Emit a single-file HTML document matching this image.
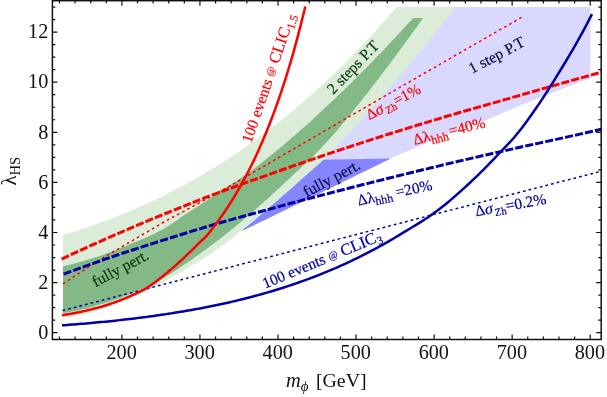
<!DOCTYPE html>
<html><head><meta charset="utf-8"><title>plot</title>
<style>
html,body{margin:0;padding:0;background:#fff;}
body{width:607px;height:397px;overflow:hidden;}
svg{display:block;will-change:transform;}
text{font-family:"Liberation Serif",serif;}
</style></head><body>
<svg width="607" height="397" viewBox="0 0 607 397">
<rect x="0" y="0" width="607" height="397" fill="#fff"/>
<polygon points="300.00,176.00 448.00,7.00 590.40,7.00 590.40,78.30 550.80,93.20 518.00,106.20 485.20,120.50 457.00,130.20 389.70,158.80 300.00,200.00" fill="#d9d9ff"/>
<polygon points="242.20,230.90 243.53,228.34 246.16,226.23 248.79,224.09 251.42,221.93 254.05,219.74 256.68,217.53 259.32,215.30 261.95,213.06 264.58,210.80 267.21,208.53 269.84,206.25 272.47,203.97 275.10,201.69 277.73,199.40 280.36,197.11 282.99,194.82 285.62,192.52 288.26,190.22 290.89,187.91 293.52,185.58 296.15,183.25 298.78,180.90 301.41,178.53 304.04,176.15 306.67,173.81 309.30,171.52 311.93,169.26 314.56,166.99 317.19,164.69 319.83,162.32 322.46,159.84 389.00,158.50 389.90,159.10" fill="#8585ff"/>
<polygon points="63.00,234.93 65.81,234.10 68.61,233.25 71.42,232.39 74.22,231.52 77.03,230.63 79.84,229.73 82.64,228.81 85.45,227.88 88.25,226.94 91.06,225.98 93.86,225.00 96.67,224.01 99.48,223.01 102.28,221.99 105.09,220.95 107.89,219.90 110.70,218.84 113.51,217.76 116.31,216.66 119.12,215.55 121.92,214.42 124.73,213.28 127.54,212.12 130.34,210.94 133.15,209.75 135.95,208.54 138.76,207.31 141.56,206.07 144.37,204.81 147.18,203.53 149.98,202.24 152.79,200.93 155.59,199.60 158.40,198.25 161.21,196.89 164.01,195.50 166.82,194.10 169.62,192.69 172.43,191.25 175.24,189.80 178.04,188.32 180.85,186.83 183.65,185.32 186.46,183.79 189.26,182.25 192.07,180.68 194.88,179.09 197.68,177.49 200.49,175.86 203.29,174.22 206.10,172.56 208.91,170.87 211.71,169.17 214.52,167.45 217.32,165.70 220.13,163.94 222.94,162.16 225.74,160.35 228.55,158.53 231.35,156.68 234.16,154.82 236.96,152.93 239.77,151.02 242.58,149.09 245.38,147.14 248.19,145.17 250.99,143.17 253.80,141.16 256.61,139.12 259.41,137.06 262.22,134.98 265.02,132.87 267.83,130.74 270.64,128.60 273.44,126.42 276.25,124.23 279.05,122.01 281.86,119.77 284.66,117.51 287.47,115.22 290.28,112.91 293.08,110.58 295.89,108.22 298.69,105.84 301.50,103.44 304.31,101.01 307.11,98.56 309.92,96.08 312.72,93.58 315.53,91.05 318.34,88.50 321.14,85.93 323.95,83.33 326.75,80.71 329.56,78.06 332.36,75.38 335.17,72.68 337.98,69.96 340.78,67.21 343.59,64.43 346.39,61.63 349.20,58.80 352.01,55.95 354.81,53.07 357.62,50.16 360.42,47.23 363.23,44.27 366.04,41.28 368.84,38.27 371.65,35.23 374.45,32.16 377.26,29.07 380.06,25.94 382.87,22.80 385.68,19.62 388.48,16.41 391.29,13.18 394.09,9.92 396.90,6.64 396.90,7.00 455.00,7.00 455.00,7.47 452.37,10.82 449.74,14.17 447.11,17.51 444.48,20.84 441.85,24.16 439.21,27.48 436.58,30.79 433.95,34.08 431.32,37.37 428.69,40.65 426.06,43.91 423.43,47.17 420.80,50.41 418.17,53.64 415.54,56.86 412.91,60.06 410.28,63.25 407.64,66.43 405.01,69.59 402.38,72.74 399.75,75.88 397.12,78.99 394.49,82.10 391.86,85.19 389.23,88.26 386.60,91.32 383.97,94.36 381.34,97.38 378.70,100.39 376.07,103.38 373.44,106.35 370.81,109.31 368.18,112.24 365.55,115.16 362.92,118.07 360.29,120.95 357.66,123.82 355.03,126.66 352.40,129.49 349.77,132.30 347.13,135.10 344.50,137.87 341.87,140.62 339.24,143.36 336.61,146.07 333.98,148.78 331.35,151.60 328.72,154.45 326.09,157.23 323.46,159.84 320.83,162.32 318.19,164.69 315.56,166.99 312.93,169.26 310.30,171.52 307.67,173.81 305.04,176.15 302.41,178.53 299.78,180.90 297.15,183.25 294.52,185.58 291.89,187.91 289.26,190.22 286.62,192.52 283.99,194.82 281.36,197.11 278.73,199.40 276.10,201.69 273.47,203.97 270.84,206.25 268.21,208.53 265.58,210.80 262.95,213.06 260.32,215.30 257.68,217.53 255.05,219.74 252.42,221.93 249.79,224.09 247.16,226.23 244.53,228.34 241.90,230.44 239.27,232.52 236.64,234.59 234.01,236.65 231.38,238.68 228.74,240.70 226.11,242.69 223.48,244.65 220.85,246.58 218.22,248.49 215.59,250.36 212.96,252.19 210.33,253.98 207.70,255.74 205.07,257.47 202.44,259.16 199.81,260.83 197.17,262.47 194.54,264.09 191.91,265.69 189.28,267.26 186.65,268.82 184.02,270.35 181.39,271.88 178.76,273.38 176.13,274.88 173.50,276.36 170.87,277.83 168.23,279.30 165.60,280.74 162.97,282.16 160.34,283.56 157.71,284.94 155.08,286.30 152.45,287.64 149.82,288.96 147.19,290.25 144.56,291.53 141.93,292.78 139.30,294.01 136.66,295.21 134.03,296.40 131.40,297.56 128.77,298.69 126.14,299.81 123.51,300.90 120.88,301.97 118.25,303.01 115.62,304.03 112.99,305.02 110.36,305.99 107.72,306.93 105.09,307.85 102.46,308.74 99.83,309.60 97.20,310.43 94.57,311.24 91.94,312.02 89.31,312.78 86.68,313.50 84.05,314.19 81.42,314.86 78.79,315.49 76.15,316.09 73.52,316.66 70.89,317.20 68.26,317.71 65.63,318.18 63.00,318.62" fill="#dbecd9"/>
<polygon points="63.00,266.25 65.94,265.59 68.89,264.89 71.83,264.16 74.77,263.41 77.71,262.63 80.66,261.82 83.60,260.98 86.54,260.12 89.49,259.22 92.43,258.30 95.37,257.36 98.31,256.38 101.26,255.38 104.20,254.35 107.14,253.29 110.09,252.21 113.03,251.09 115.97,249.96 118.91,248.79 121.86,247.60 124.80,246.38 127.74,245.14 130.69,243.87 133.63,242.62 136.57,241.38 139.51,240.15 142.46,238.91 145.40,237.66 148.34,236.38 151.29,235.06 154.23,233.69 157.17,232.27 160.11,230.77 163.06,229.15 166.00,227.41 168.94,225.56 171.89,223.64 174.83,221.65 177.77,219.63 180.71,217.60 183.66,215.59 186.60,213.61 189.54,211.69 192.49,209.82 195.43,207.93 198.37,206.02 201.31,204.09 204.26,202.15 207.20,200.19 210.14,198.21 213.09,196.23 216.03,194.23 218.97,192.22 221.91,190.22 224.86,188.29 227.80,186.42 230.74,184.58 233.69,182.75 236.63,180.91 239.57,179.04 242.51,177.11 245.46,175.10 248.40,172.99 251.34,170.76 254.29,168.50 257.23,166.22 260.17,163.91 263.11,161.59 266.06,159.24 269.00,156.87 271.94,154.49 274.89,152.08 277.83,149.65 280.77,147.20 283.71,144.73 286.66,142.24 289.60,139.73 292.54,137.21 295.49,134.66 298.43,132.09 301.37,129.50 304.31,126.90 307.26,124.27 310.20,121.63 313.14,118.96 316.09,116.28 319.03,113.58 321.97,110.86 324.91,108.12 327.86,105.36 330.80,102.59 333.74,99.80 336.69,96.98 339.63,94.16 342.57,91.31 345.51,88.44 348.46,85.56 351.40,82.66 354.34,79.75 357.29,76.81 360.23,73.86 363.17,70.89 366.11,67.91 369.06,64.90 372.00,61.88 374.94,58.85 377.89,55.80 380.83,52.73 383.77,49.64 386.71,46.54 389.66,43.43 392.60,40.30 395.54,37.15 398.49,33.98 401.43,30.81 404.37,27.61 407.31,24.40 410.26,21.18 413.20,17.94 413.20,17.90 422.30,17.90 422.30,19.17 419.72,22.78 417.13,26.38 414.55,29.98 411.96,33.56 409.38,37.13 406.79,40.69 404.21,44.24 401.62,47.77 399.04,51.29 396.45,54.79 393.87,58.28 391.28,61.76 388.70,65.22 386.11,68.66 383.53,72.08 380.94,75.49 378.36,78.88 375.77,82.25 373.19,85.61 370.60,88.94 368.02,92.26 365.43,95.56 362.85,98.83 360.26,102.09 357.68,105.32 355.09,108.54 352.51,111.73 349.92,114.91 347.34,118.06 344.75,121.18 342.17,124.29 339.58,127.37 337.00,130.41 334.41,133.39 331.83,136.31 329.24,139.19 326.66,142.03 324.07,144.82 321.49,147.59 318.90,150.32 316.32,153.03 313.73,155.66 311.15,158.21 308.56,160.69 305.98,163.11 303.39,165.50 300.81,167.86 298.23,170.23 295.64,172.60 293.06,175.00 290.47,177.44 287.89,179.92 285.30,182.37 282.72,184.80 280.13,187.22 277.55,189.61 274.96,191.98 272.38,194.34 269.79,196.68 267.21,199.00 264.62,201.31 262.04,203.60 259.45,205.88 256.87,208.15 254.28,210.41 251.70,212.65 249.11,214.88 246.53,217.09 243.94,219.29 241.36,221.48 238.77,223.64 236.19,225.79 233.60,227.92 231.02,230.03 228.43,232.12 225.85,234.19 223.26,236.24 220.68,238.26 218.09,240.27 215.51,242.25 212.92,244.20 210.34,246.13 207.75,248.03 205.17,249.91 202.58,251.77 200.00,253.63 197.41,255.49 194.83,257.33 192.24,259.17 189.66,261.00 187.07,262.81 184.49,264.60 181.91,266.37 179.32,268.11 176.74,269.83 174.15,271.51 171.57,273.17 168.98,274.78 166.40,276.36 163.81,277.90 161.23,279.39 158.64,280.83 156.06,282.22 153.47,283.56 150.89,284.84 148.30,286.07 145.72,287.28 143.13,288.46 140.55,289.61 137.96,290.75 135.38,291.86 132.79,292.94 130.21,294.00 127.62,295.04 125.04,296.05 122.45,297.04 119.87,298.00 117.28,298.95 114.70,299.86 112.11,300.76 109.53,301.63 106.94,302.47 104.36,303.30 101.77,304.10 99.19,304.87 96.60,305.62 94.02,306.35 91.43,307.05 88.85,307.73 86.26,308.38 83.68,309.01 81.09,309.62 78.51,310.20 75.92,310.76 73.34,311.29 70.75,311.80 68.17,312.28 65.58,312.74 63.00,313.17" fill="#82b984"/>
<polyline points="63.00,283.89 68.82,280.00 74.64,276.12 80.46,272.27 86.29,268.47 92.11,264.72 97.93,261.04 103.75,257.46 109.57,253.97 115.39,250.55 121.22,247.13 127.04,243.71 132.86,240.29 138.68,236.87 144.50,233.46 150.32,230.05 156.14,226.63 161.97,223.23 167.79,219.92 173.61,216.72 179.43,213.57 185.25,210.46 191.07,207.33 196.89,204.18 202.72,200.96 208.54,197.74 214.36,194.53 220.18,191.30 226.00,188.06 231.82,184.79 237.65,181.47 243.47,178.09 249.29,174.70 255.11,171.31 260.93,167.92 266.75,164.53 272.57,161.14 278.40,157.75 284.22,154.37 290.04,150.98 295.86,147.60 301.68,144.22 307.50,140.84 313.33,137.46 319.15,134.08 324.97,130.70 330.79,127.33 336.61,123.95 342.43,120.58 348.25,117.21 354.08,113.84 359.90,110.47 365.72,107.10 371.54,103.73 377.36,100.37 383.18,97.00 389.01,93.64 394.83,90.28 400.65,86.92 406.47,83.56 412.29,80.20 418.11,76.84 423.93,73.49 429.76,70.13 435.58,66.78 441.40,63.43 447.22,60.08 453.04,56.73 458.86,53.38 464.68,50.03 470.51,46.69 476.33,43.34 482.15,40.00 487.97,36.66 493.79,33.31 499.61,29.97 505.44,26.64 511.26,23.30 517.08,19.96 522.90,16.63" fill="none" stroke="#ff0000" stroke-width="1.5" stroke-dasharray="2.7 3.1"/>
<polyline points="62.50,310.58 69.31,308.82 76.12,307.05 82.93,305.28 89.74,303.52 96.55,301.75 103.36,299.98 110.17,298.22 116.98,296.45 123.79,294.69 130.60,292.92 137.41,291.15 144.22,289.39 151.03,287.62 157.84,285.86 164.65,284.09 171.46,282.33 178.27,280.56 185.08,278.80 191.89,277.04 198.70,275.27 205.51,273.51 212.32,271.74 219.13,269.98 225.94,268.22 232.75,266.45 239.56,264.69 246.37,262.93 253.18,261.16 259.99,259.40 266.80,257.64 273.61,255.88 280.42,254.11 287.23,252.35 294.04,250.59 300.85,248.83 307.66,247.07 314.47,245.30 321.28,243.54 328.09,241.78 334.91,240.02 341.72,238.26 348.53,236.50 355.34,234.74 362.15,232.98 368.96,231.22 375.77,229.46 382.58,227.70 389.39,225.94 396.20,224.18 403.01,222.42 409.82,220.66 416.63,218.90 423.44,217.14 430.25,215.38 437.06,213.62 443.87,211.86 450.68,210.11 457.49,208.35 464.30,206.59 471.11,204.83 477.92,203.07 484.73,201.32 491.54,199.56 498.35,197.80 505.16,196.04 511.97,194.29 518.78,192.53 525.59,190.77 532.40,189.02 539.21,187.26 546.02,185.50 552.83,183.75 559.64,181.99 566.45,180.23 573.26,178.48 580.07,176.72 586.88,174.97 593.69,173.21 600.50,171.46" fill="none" stroke="#0000a3" stroke-width="1.5" stroke-dasharray="2.7 3.1"/>
<polyline points="61.60,259.04 68.43,255.85 75.27,252.68 82.10,249.54 88.94,246.43 95.77,243.34 102.61,240.28 109.44,237.25 116.27,234.26 123.11,231.30 129.94,228.37 136.78,225.47 143.61,222.60 150.44,219.74 157.28,216.91 164.11,214.09 170.95,211.30 177.78,208.53 184.62,205.79 191.45,203.07 198.28,200.38 205.12,197.71 211.95,195.10 218.79,192.54 225.62,190.01 232.45,187.52 239.29,185.05 246.12,182.61 252.96,180.18 259.79,177.76 266.63,175.35 273.46,172.93 280.29,170.50 287.13,168.08 293.96,165.68 300.80,163.29 307.63,160.92 314.46,158.57 321.30,156.23 328.13,153.91 334.97,151.61 341.80,149.32 348.64,147.06 355.47,144.80 362.30,142.57 369.14,140.35 375.97,138.15 382.81,135.97 389.64,133.80 396.47,131.65 403.31,129.51 410.14,127.39 416.98,125.29 423.81,123.21 430.65,121.14 437.48,119.09 444.31,117.05 451.15,115.04 457.98,113.03 464.82,111.05 471.65,109.08 478.48,107.13 485.32,105.19 492.15,103.26 498.99,101.32 505.82,99.37 512.66,97.41 519.49,95.45 526.32,93.48 533.16,91.51 539.99,89.54 546.83,87.58 553.66,85.62 560.49,83.66 567.33,81.72 574.16,79.78 581.00,77.86 587.83,75.96 594.67,74.07 601.50,72.20" fill="none" stroke="#ff0000" stroke-width="3.0" stroke-dasharray="8.1 2.1"/>
<polyline points="63.60,274.10 70.41,271.60 77.22,269.12 84.03,266.66 90.84,264.23 97.64,261.82 104.45,259.44 111.26,257.09 118.07,254.78 124.88,252.50 131.69,250.27 138.50,248.07 145.31,245.87 152.12,243.69 158.92,241.52 165.73,239.37 172.54,237.23 179.35,235.11 186.16,232.99 192.97,230.90 199.78,228.81 206.59,226.76 213.39,224.75 220.20,222.77 227.01,220.83 233.82,218.91 240.63,217.02 247.44,215.15 254.25,213.29 261.06,211.44 267.87,209.60 274.67,207.75 281.48,205.89 288.29,204.05 295.10,202.22 301.91,200.40 308.72,198.60 315.53,196.81 322.34,195.03 329.15,193.26 335.95,191.51 342.76,189.76 349.57,188.02 356.38,186.29 363.19,184.57 370.00,182.86 376.81,181.16 383.62,179.46 390.43,177.76 397.23,176.08 404.04,174.40 410.85,172.73 417.66,171.07 424.47,169.42 431.28,167.78 438.09,166.14 444.90,164.52 451.71,162.91 458.51,161.30 465.32,159.71 472.13,158.12 478.94,156.55 485.75,154.99 492.56,153.43 499.37,151.89 506.18,150.36 512.98,148.84 519.79,147.33 526.60,145.83 533.41,144.34 540.22,142.86 547.03,141.40 553.84,139.92 560.65,138.41 567.46,136.90 574.26,135.37 581.07,133.84 587.88,132.32 594.69,130.80 601.50,129.30" fill="none" stroke="#0000a3" stroke-width="3.0" stroke-dasharray="8.1 2.1"/>
<polyline points="62.02,315.20 64.07,314.88 66.09,314.54 68.09,314.21 70.06,313.86 72.00,313.51 73.93,313.16 75.83,312.79 77.71,312.43 79.57,312.05 81.40,311.67 83.22,311.27 85.02,310.88 86.80,310.47 88.56,310.06 90.30,309.64 92.03,309.21 93.74,308.77 95.43,308.33 97.11,307.88 98.78,307.42 100.43,306.95 102.07,306.47 103.70,305.98 105.31,305.49 106.91,304.98 108.50,304.47 110.08,303.94 111.65,303.41 113.21,302.86 114.76,302.31 116.30,301.74 117.83,301.17 119.35,300.58 120.87,299.99 122.38,299.39 123.88,298.79 125.38,298.19 126.87,297.58 128.35,296.97 129.83,296.34 131.30,295.71 132.77,295.06 134.23,294.40 135.69,293.72 137.15,293.03 138.60,292.33 140.05,291.60 141.50,290.85 142.94,290.08 144.38,289.29 145.82,288.47 147.26,287.61 148.70,286.70 150.13,285.76 151.56,284.78 153.00,283.76 154.43,282.72 155.86,281.65 157.29,280.55 158.72,279.43 160.15,278.29 161.58,277.14 163.01,275.97 164.44,274.80 165.88,273.61 167.31,272.42 168.74,271.23 170.18,270.05 171.61,268.84 173.05,267.62 174.49,266.38 175.93,265.11 177.37,263.83 178.81,262.53 180.26,261.22 181.70,259.89 183.15,258.55 184.60,257.20 186.05,255.84 187.51,254.46 188.96,253.07 190.42,251.66 191.88,250.24 193.34,248.79 194.81,247.33 196.28,245.85 197.75,244.35 199.22,242.83 200.69,241.34 202.17,240.01 203.64,238.74 205.12,237.39 206.61,235.83 208.09,234.04 209.58,232.21 211.06,230.35 212.56,228.45 214.05,226.51 215.54,224.54 217.04,222.53 218.54,220.49 220.04,218.40 221.54,216.28 223.04,214.12 224.55,211.92 226.05,209.67 227.56,207.39 229.07,205.06 230.58,202.69 232.09,200.28 233.60,197.82 235.12,195.31 236.63,192.76 238.15,190.16 239.66,187.52 241.18,184.82 242.70,182.08 244.22,179.28 245.73,176.43 247.25,173.53 248.77,170.57 250.29,167.56 251.81,164.50 253.33,161.37 254.84,158.19 256.36,154.95 257.88,151.65 259.39,148.29 260.91,144.86 262.42,141.38 263.93,137.82 265.44,134.21 266.95,130.52 268.46,126.77 269.97,122.94 271.48,119.05 272.98,115.08 274.48,111.04 275.98,106.92 277.47,102.73 278.97,98.46 280.46,94.11 281.95,89.68 283.43,85.17 284.92,80.57 286.40,75.89 287.87,71.12 289.35,66.26 290.82,61.32 292.28,56.28 293.74,51.15 295.20,45.92 296.66,40.59 298.11,35.17 299.55,29.64 300.99,24.02 302.43,18.28 303.86,12.45 305.29,6.50" fill="none" stroke="#ff0000" stroke-width="2.5"/>
<polyline points="62.00,325.33 64.42,325.15 66.84,324.98 69.26,324.79 71.68,324.61 74.10,324.42 76.52,324.23 78.94,324.03 81.36,323.83 83.78,323.63 86.20,323.42 88.62,323.21 91.04,323.00 93.46,322.78 95.88,322.56 98.30,322.34 100.72,322.11 103.14,321.87 105.56,321.64 107.98,321.40 110.40,321.15 112.82,320.90 115.24,320.64 117.66,320.38 120.08,320.12 122.50,319.85 124.92,319.58 127.34,319.30 129.76,319.01 132.18,318.73 134.60,318.43 137.02,318.13 139.44,317.83 141.86,317.52 144.28,317.20 146.70,316.88 149.12,316.56 151.54,316.23 153.96,315.89 156.38,315.55 158.80,315.20 161.22,314.84 163.64,314.48 166.06,314.12 168.48,313.74 170.90,313.37 173.32,312.98 175.74,312.59 178.16,312.20 180.58,311.80 183.00,311.40 185.42,310.99 187.84,310.58 190.26,310.16 192.68,309.73 195.11,309.30 197.53,308.86 199.95,308.41 202.37,307.96 204.79,307.50 207.21,307.03 209.63,306.56 212.05,306.07 214.47,305.58 216.89,305.08 219.31,304.57 221.73,304.05 224.15,303.52 226.57,302.98 228.99,302.43 231.41,301.87 233.83,301.30 236.25,300.73 238.67,300.14 241.09,299.55 243.51,298.94 245.93,298.33 248.35,297.71 250.77,297.08 253.19,296.44 255.61,295.79 258.03,295.13 260.45,294.46 262.87,293.78 265.29,293.09 267.71,292.39 270.13,291.68 272.55,290.96 274.97,290.23 277.39,289.49 279.81,288.73 282.23,287.97 284.65,287.19 287.07,286.40 289.49,285.60 291.91,284.79 294.33,283.97 296.75,283.13 299.17,282.29 301.59,281.44 304.01,280.57 306.43,279.69 308.85,278.80 311.27,277.90 313.69,276.98 316.11,276.05 318.53,275.11 320.95,274.15 323.37,273.18 325.79,272.20 328.21,271.20 330.63,270.19 333.05,269.16 335.47,268.12 337.89,267.06 340.31,265.98 342.73,264.90 345.15,263.79 347.57,262.67 349.99,261.54 352.41,260.40 354.83,259.23 357.25,258.06 359.67,256.87 362.09,255.66 364.51,254.44 366.93,253.20 369.35,251.95 371.77,250.67 374.19,249.39 376.61,248.08 379.03,246.76 381.45,245.43 383.87,244.07 386.29,242.70 388.71,241.31 391.13,239.90 393.55,238.48 395.97,237.03 398.39,235.57 400.81,234.09 403.23,232.61 405.65,231.15 408.07,229.70 410.49,228.25 412.91,226.79 415.33,225.33 417.75,223.85 420.17,222.35 422.59,220.82 425.01,219.26 427.43,217.67 429.85,216.04 432.27,214.36 434.69,212.62 437.11,210.83 439.53,208.99 441.95,207.09 444.37,205.16 446.79,203.18 449.21,201.17 451.63,199.12 454.05,197.03 456.47,194.92 458.89,192.78 461.32,190.61 463.74,188.42 466.16,186.21 468.58,183.98 471.00,181.73 473.42,179.46 475.84,177.15 478.26,174.81 480.68,172.44 483.10,170.04 485.52,167.61 487.94,165.14 490.36,162.65 492.78,160.13 495.20,157.58 497.62,155.00 500.04,152.40 502.46,149.83 504.88,147.33 507.30,144.85 509.72,142.33 512.14,139.72 514.56,136.97 516.98,134.06 519.40,131.05 521.82,127.93 524.24,124.72 526.66,121.44 529.08,118.08 531.50,114.67 533.92,111.21 536.34,107.70 538.76,104.17 541.18,100.61 543.60,96.98 546.02,93.28 548.44,89.51 550.86,85.69 553.28,81.81 555.70,77.90 558.12,73.96 560.54,69.99 562.96,66.01 565.38,62.02 567.80,58.01 570.22,53.94 572.64,49.80 575.06,45.59 577.48,41.31 579.90,36.96 582.32,32.54 584.74,28.04 587.16,23.46 589.58,18.81 592.00,14.08" fill="none" stroke="#0000a3" stroke-width="2.5"/>
<rect x="52.40" y="0.70" width="548.80" height="338.80" fill="none" stroke="#111" stroke-width="1.5"/>
<path d="M59.46 339.50v-2.90 M59.46 0.70v2.90 M75.07 339.50v-2.90 M75.07 0.70v2.90 M90.68 339.50v-2.90 M90.68 0.70v2.90 M106.29 339.50v-2.90 M106.29 0.70v2.90 M121.90 339.50v-5.00 M121.90 0.70v5.00 M137.51 339.50v-2.90 M137.51 0.70v2.90 M153.12 339.50v-2.90 M153.12 0.70v2.90 M168.73 339.50v-2.90 M168.73 0.70v2.90 M184.34 339.50v-2.90 M184.34 0.70v2.90 M199.95 339.50v-5.00 M199.95 0.70v5.00 M215.56 339.50v-2.90 M215.56 0.70v2.90 M231.17 339.50v-2.90 M231.17 0.70v2.90 M246.78 339.50v-2.90 M246.78 0.70v2.90 M262.39 339.50v-2.90 M262.39 0.70v2.90 M278.00 339.50v-5.00 M278.00 0.70v5.00 M293.61 339.50v-2.90 M293.61 0.70v2.90 M309.22 339.50v-2.90 M309.22 0.70v2.90 M324.83 339.50v-2.90 M324.83 0.70v2.90 M340.44 339.50v-2.90 M340.44 0.70v2.90 M356.05 339.50v-5.00 M356.05 0.70v5.00 M371.66 339.50v-2.90 M371.66 0.70v2.90 M387.27 339.50v-2.90 M387.27 0.70v2.90 M402.88 339.50v-2.90 M402.88 0.70v2.90 M418.49 339.50v-2.90 M418.49 0.70v2.90 M434.10 339.50v-5.00 M434.10 0.70v5.00 M449.71 339.50v-2.90 M449.71 0.70v2.90 M465.32 339.50v-2.90 M465.32 0.70v2.90 M480.93 339.50v-2.90 M480.93 0.70v2.90 M496.54 339.50v-2.90 M496.54 0.70v2.90 M512.15 339.50v-5.00 M512.15 0.70v5.00 M527.76 339.50v-2.90 M527.76 0.70v2.90 M543.37 339.50v-2.90 M543.37 0.70v2.90 M558.98 339.50v-2.90 M558.98 0.70v2.90 M574.59 339.50v-2.90 M574.59 0.70v2.90 M590.20 339.50v-5.00 M590.20 0.70v5.00 M52.40 332.70h5.00 M601.20 332.70h-5.00 M52.40 320.18h2.90 M601.20 320.18h-2.90 M52.40 307.65h2.90 M601.20 307.65h-2.90 M52.40 295.12h2.90 M601.20 295.12h-2.90 M52.40 282.60h5.00 M601.20 282.60h-5.00 M52.40 270.07h2.90 M601.20 270.07h-2.90 M52.40 257.55h2.90 M601.20 257.55h-2.90 M52.40 245.02h2.90 M601.20 245.02h-2.90 M52.40 232.50h5.00 M601.20 232.50h-5.00 M52.40 219.97h2.90 M601.20 219.97h-2.90 M52.40 207.45h2.90 M601.20 207.45h-2.90 M52.40 194.92h2.90 M601.20 194.92h-2.90 M52.40 182.40h5.00 M601.20 182.40h-5.00 M52.40 169.87h2.90 M601.20 169.87h-2.90 M52.40 157.35h2.90 M601.20 157.35h-2.90 M52.40 144.82h2.90 M601.20 144.82h-2.90 M52.40 132.30h5.00 M601.20 132.30h-5.00 M52.40 119.77h2.90 M601.20 119.77h-2.90 M52.40 107.25h2.90 M601.20 107.25h-2.90 M52.40 94.72h2.90 M601.20 94.72h-2.90 M52.40 82.20h5.00 M601.20 82.20h-5.00 M52.40 69.67h2.90 M601.20 69.67h-2.90 M52.40 57.15h2.90 M601.20 57.15h-2.90 M52.40 44.62h2.90 M601.20 44.62h-2.90 M52.40 32.10h5.00 M601.20 32.10h-5.00 M52.40 19.57h2.90 M601.20 19.57h-2.90 M52.40 7.05h2.90 M601.20 7.05h-2.90" fill="none" stroke="#111" stroke-width="1.2"/>
<text x="121.60" y="359" font-size="20.2" text-anchor="middle" fill="#111">200</text>
<text x="199.65" y="359" font-size="20.2" text-anchor="middle" fill="#111">300</text>
<text x="277.70" y="359" font-size="20.2" text-anchor="middle" fill="#111">400</text>
<text x="355.75" y="359" font-size="20.2" text-anchor="middle" fill="#111">500</text>
<text x="433.80" y="359" font-size="20.2" text-anchor="middle" fill="#111">600</text>
<text x="511.85" y="359" font-size="20.2" text-anchor="middle" fill="#111">700</text>
<text x="589.90" y="359" font-size="20.2" text-anchor="middle" fill="#111">800</text>
<text x="48.3" y="338.90" font-size="20.2" text-anchor="end" fill="#111">0</text>
<text x="48.3" y="288.80" font-size="20.2" text-anchor="end" fill="#111">2</text>
<text x="48.3" y="238.70" font-size="20.2" text-anchor="end" fill="#111">4</text>
<text x="48.3" y="188.60" font-size="20.2" text-anchor="end" fill="#111">6</text>
<text x="48.3" y="138.50" font-size="20.2" text-anchor="end" fill="#111">8</text>
<text x="48.3" y="88.40" font-size="20.2" text-anchor="end" fill="#111">10</text>
<text x="48.3" y="38.30" font-size="20.2" text-anchor="end" fill="#111">12</text>
<text x="286" y="386.5" font-size="20.4" fill="#111"><tspan font-style="italic">m</tspan><tspan font-style="italic" font-size="15" dy="4.2">ϕ</tspan><tspan dy="-4.2" x="316" font-size="19.8">[GeV]</tspan></text>
<text transform="translate(16.2 185.5) rotate(-90)" font-size="20.6" fill="#111">λ<tspan font-size="14.6" dy="3.6">HS</tspan></text>
<text transform="translate(251.2 143.8) rotate(-71.0)" font-size="15.4" fill="#ff0000" stroke="#ff0000" stroke-width="0.2">100 events <tspan font-size="10.5" dy="-1.5">@</tspan><tspan font-size="16.4" dy="1.5"> CLIC</tspan><tspan font-size="11.5" dy="3.2">1.5</tspan></text>
<text transform="translate(265.0 288.7) rotate(-22.5)" font-size="15.5" fill="#0000a3" stroke="#0000a3" stroke-width="0.2">100 events <tspan font-size="10.5" dy="-1.5">@</tspan><tspan font-size="16.4" dy="1.5"> CLIC</tspan><tspan font-size="11.5" dy="3.2">3</tspan></text>
<text transform="translate(333.3 95.0) rotate(-46.0)" font-size="15.6" fill="#0a3a0a" stroke="#0a3a0a" stroke-width="0.2">2 steps P.T</text>
<text transform="translate(472.0 74.0) rotate(-28.0)" font-size="15.6" fill="#0b0b45" stroke="#0b0b45" stroke-width="0.2">1 step P.T</text>
<text transform="translate(95.6 287.2) rotate(-28.0)" font-size="15.6" fill="#0a3a0a" stroke="#0a3a0a" stroke-width="0.2">fully pert.</text>
<text transform="translate(306.5 197.5) rotate(-28.0)" font-size="15.8" fill="#0b0b45" stroke="#0b0b45" stroke-width="0.2">fully pert.</text>
<text transform="translate(369.3 120.3) rotate(-28.0)" font-size="15.2" fill="#ff0000" stroke="#ff0000" stroke-width="0.2">Δ<tspan font-style="italic" font-size="16">σ</tspan><tspan font-size="10.5" dy="3.2" dx="1.5">Zh</tspan><tspan dy="-3.2">=1%</tspan></text>
<text transform="translate(414.5 145.0) rotate(-14.0)" font-size="15.4" fill="#ff0000" stroke="#ff0000" stroke-width="0.2">Δλ<tspan font-size="12" dy="3.5">hhh</tspan><tspan dy="-3.5" dx="1.5">=40%</tspan></text>
<text transform="translate(358.5 205.5) rotate(-12.0)" font-size="15.4" fill="#0000a3" stroke="#0000a3" stroke-width="0.2">Δλ<tspan font-size="12" dy="3.5">hhh</tspan><tspan dy="-3.5"> =20%</tspan></text>
<text transform="translate(476.0 216.3) rotate(-10.0)" font-size="15.5" fill="#0000a3" stroke="#0000a3" stroke-width="0.2">Δ<tspan font-style="italic" font-size="16">σ</tspan><tspan font-size="10.5" dy="3.2" dx="1.5">Zh</tspan><tspan dy="-3.2">=0.2%</tspan></text>
</svg></body></html>
